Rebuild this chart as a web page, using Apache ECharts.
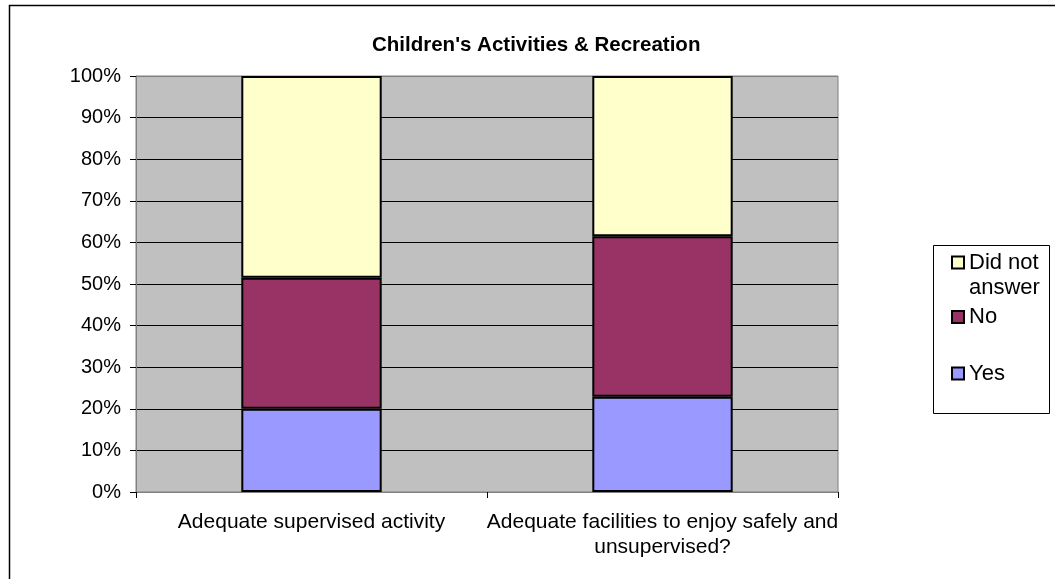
<!DOCTYPE html>
<html>
<head>
<meta charset="utf-8">
<script src="https://cdn.jsdelivr.net/npm/echarts@6/dist/echarts.min.js"></script>
<style>
html,body{margin:0;padding:0;background:#fff;}
#chart{width:1055px;height:579px;}
</style>
</head>
<body>
<div id="chart"></div>
<script>
const titleText = "Children's Activities & Recreation";
const categories = ["Adequate supervised activity", "Adequate facilities to enjoy safely and\nunsupervised?"];
const yesValues = [20, 22.9];
const noValues = [31.5, 38.6];
const didNotAnswerValues = [48.5, 38.5];
const seriesNames = ["Yes", "No", "Did not answer"];
const yTickMin = 0, yTickMax = 100, yTickStep = 10;

const FONT = '"Liberation Sans", Arial, sans-serif';

const chart = echarts.init(document.getElementById('chart'), null, {renderer: 'canvas'});

function legendAt(name, top, labelText) {
  return {
    data: [name],
    orient: 'vertical',
    left: 951,
    top: top,
    padding: 0,
    itemWidth: 12,
    itemHeight: 12,
    itemGap: 0,
    selectedMode: false,
    icon: 'rect',
    itemStyle: {borderColor: '#000', borderWidth: 2},
    formatter: labelText ? () => labelText : undefined,
    textStyle: {fontFamily: FONT, fontSize: 22, color: '#000', lineHeight: 25}
  };
}

const splitColors = [];
for (let v = yTickMin; v <= yTickMax; v += yTickStep) {
  splitColors.push((v === yTickMin || v === yTickMax) ? '#808080' : '#000');
}

const barBase = {
  type: 'bar',
  stack: 'total',
  barWidth: '40%',
  emphasis: {disabled: true}
};

chart.setOption({
  animation: false,
  backgroundColor: '#fff',
  title: {
    text: titleText,
    left: 367,
    top: 30,
    textStyle: {fontFamily: FONT, fontSize: 20.5, fontWeight: 'bold', color: '#000'}
  },
  graphic: [
    {type: 'rect', left: 7, top: 3, z: -10, silent: true,
     shape: {x: 0, y: 0, width: 1100, height: 620},
     style: {fill: 'none', stroke: '#000', lineWidth: 1.5}},
    {type: 'rect', left: 933, top: 245, z: -5, silent: true,
     shape: {x: 0, y: 0, width: 116, height: 168},
     style: {fill: '#fff', stroke: '#000', lineWidth: 1}}
  ],
  legend: [
    legendAt(seriesNames[2], 225, '\nDid not\nanswer'),
    legendAt(seriesNames[1], 304.5),
    legendAt(seriesNames[0], 361)
  ],
  grid: {
    left: 136, right: 217, top: 76, bottom: 87,
    show: true, backgroundColor: '#C0C0C0', borderColor: '#808080', borderWidth: 1
  },
  xAxis: {
    type: 'category',
    data: categories,
    axisLine: {show: true, lineStyle: {color: '#808080', width: 1}},
    axisTick: {show: true, length: 6, lineStyle: {color: '#000'}},
    axisLabel: {fontFamily: FONT, fontSize: 21, color: '#000', margin: 18, lineHeight: 25, interval: 0}
  },
  yAxis: {
    type: 'value',
    min: yTickMin, max: yTickMax, interval: yTickStep,
    axisLine: {show: true, lineStyle: {color: '#808080', width: 1}},
    axisTick: {show: true, length: 6, inside: false, lineStyle: {color: '#000'}},
    axisLabel: {fontFamily: FONT, fontSize: 20, color: '#000', margin: 15, formatter: '{value}%'},
    splitLine: {show: true, lineStyle: {color: splitColors, width: 1}}
  },
  series: [
    Object.assign({}, barBase, {name: seriesNames[0], data: yesValues, itemStyle: {color: '#9999FF', borderColor: '#000', borderWidth: 2}}),
    Object.assign({}, barBase, {name: seriesNames[1], data: noValues, itemStyle: {color: '#993366', borderColor: '#000', borderWidth: 2}}),
    Object.assign({}, barBase, {name: seriesNames[2], data: didNotAnswerValues, itemStyle: {color: '#FFFFCC', borderColor: '#000', borderWidth: 2}})
  ]
});
</script>
</body>
</html>
